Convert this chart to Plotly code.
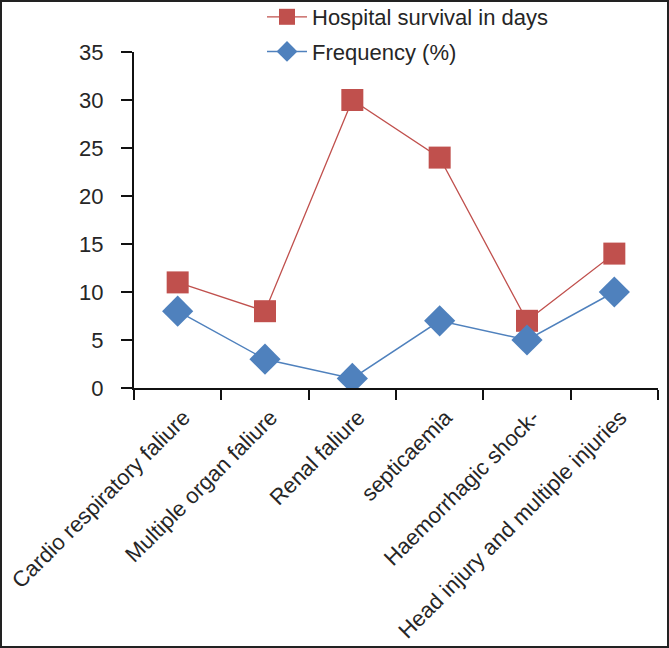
import plotly.graph_objects as go

categories = ["Cardio respiratory faliure", "Multiple organ faliure", "Renal faliure",
              "septicaemia", "Haemorrhagic shock-", "Head injury and multiple injuries"]
survival_days = [11, 8, 30, 24, 7, 14]
frequency_pct = [8, 3, 1, 7, 5, 10]
y_ticks = [0, 5, 10, 15, 20, 25, 30, 35]

W, H = 669, 648
ML, MR, MT, MB = 134, 11, 52, 260
pw, ph = W - ML - MR, H - MT - MB

font = "Liberation Sans, Arial, sans-serif"

fig = go.Figure()
fig.add_trace(go.Scatter(
    x=categories, y=survival_days, mode="lines+markers",
    name="Hospital survival in days", legendgroup="a",
    line=dict(color="#C0504D", width=1.3),
    marker=dict(symbol="square", size=22, color="#C0504D"),
))
fig.add_trace(go.Scatter(
    x=categories, y=frequency_pct, mode="lines+markers",
    name="Frequency (%)", legendgroup="b",
    line=dict(color="#4F81BD", width=1.5),
    marker=dict(symbol="diamond", size=24, color="#4F81BD"),
))

fig.update_layout(
    width=W, height=H,
    margin=dict(l=ML, r=MR, t=MT, b=MB, pad=0, autoexpand=False),
    paper_bgcolor="white", plot_bgcolor="white",
    font=dict(family=font, color="#262626", size=22),
    showlegend=True,
    legend=dict(x=(262 - ML) / pw, y=1 + 56 / ph, xanchor="left", yanchor="top",
                font=dict(size=22, color="#262626"), bgcolor="rgba(0,0,0,0)",
                traceorder="grouped", tracegroupgap=3, itemwidth=40),
    xaxis=dict(type="category", range=[-0.5, 5.5], showline=True, linecolor="#111",
               linewidth=2, ticks="outside", ticklen=10, tickwidth=2, tickcolor="#111",
               tickson="boundaries", tickangle=-45, showgrid=False, zeroline=False,
               ticklabelstandoff=6, ticklabelshift=6, automargin=False,
               tickfont=dict(size=22, color="#262626")),
    yaxis=dict(range=[0, 35], tickvals=y_ticks, showline=True, linecolor="#111",
               linewidth=2, ticks="outside", ticklen=11, tickwidth=2, tickcolor="#111",
               showgrid=False, zeroline=False, automargin=False, ticklabelstandoff=13,
               tickfont=dict(size=22, color="#262626")),
)

fig.add_shape(type="rect", xref="paper", yref="paper",
              x0=-(ML - 1) / pw, x1=1 + (MR - 1) / pw,
              y0=-(MB - 1) / ph, y1=1 + (MT - 1) / ph,
              line=dict(color="#222", width=2), fillcolor="rgba(0,0,0,0)")

fig.write_html("out.html", config={"displayModeBar": False},
               post_script="document.body.style.margin='0';document.body.style.overflow='hidden';")
